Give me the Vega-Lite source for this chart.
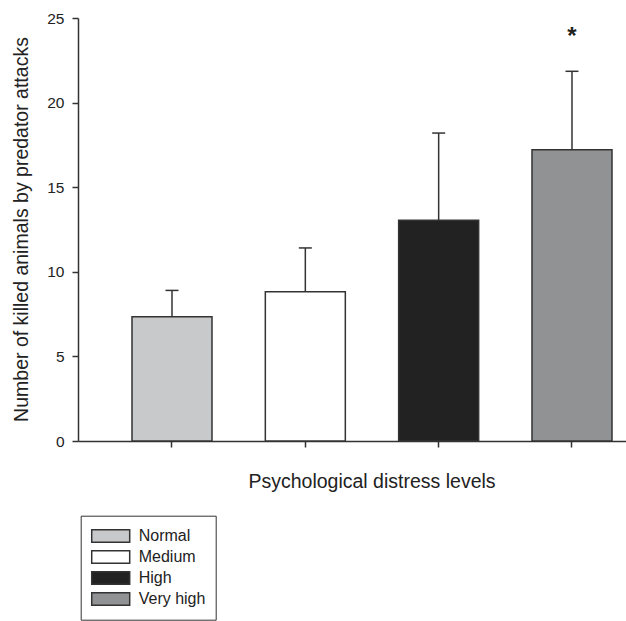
{
  "$schema": "https://vega.github.io/schema/vega-lite/v6.json",
  "width": 548,
  "height": 423,
  "autosize": {"type": "none"},
  "padding": {"left": 78, "top": 18, "right": 0, "bottom": 180},
  "background": "white",
  "config": {
    "view": {"stroke": null},
    "font": "Liberation Sans",
    "axis": {
      "domainColor": "#333",
      "domainWidth": 1.5,
      "tickColor": "#333",
      "tickWidth": 1.5,
      "tickSize": 6,
      "grid": false,
      "labelFont": "Liberation Sans",
      "labelColor": "#222",
      "titleFont": "Liberation Sans",
      "titleColor": "#222",
      "titleFontWeight": "normal"
    },
    "axisY": {
      "labelFontSize": 15.5,
      "labelPadding": 8,
      "titleFontSize": 19.5
    }
  },
  "data": {
    "values": [
      {"level": "Normal", "mean": 7.35, "upper": 8.9},
      {"level": "Medium", "mean": 8.82, "upper": 11.41},
      {"level": "High", "mean": 13.05, "upper": 18.2},
      {"level": "Very high", "mean": 17.22, "upper": 21.85}
    ]
  },
  "encoding": {
    "x": {
      "field": "level",
      "type": "nominal",
      "sort": ["Normal", "Medium", "High", "Very high"],
      "scale": {"paddingInner": 0.4, "paddingOuter": 0.255, "align": 0.794},
      "axis": {
        "labels": false,
        "title": "Psychological distress levels",
        "titleFontSize": 19.5,
        "titleX": 293.5,
        "titleY": 46.5,
        "titleAlign": "center",
        "titleBaseline": "alphabetic"
      }
    },
    "y": {
      "field": "mean",
      "type": "quantitative",
      "scale": {"domain": [0, 25], "nice": false},
      "axis": {
        "values": [0, 5, 10, 15, 20, 25],
        "labelFontSize": 15.5,
        "labelPadding": 8,
        "title": "Number of killed animals by predator attacks",
        "titleFontSize": 19.5,
        "titleX": -51,
        "titleY": 211,
        "titleAlign": "center",
        "titleBaseline": "alphabetic"
      }
    }
  },
  "layer": [
    {
      "mark": {"type": "rule", "stroke": "#333", "strokeWidth": 1.5},
      "encoding": {
        "y2": {"field": "upper"}
      }
    },
    {
      "mark": {"type": "tick", "color": "#333", "size": 13, "thickness": 1.5, "opacity": 1},
      "encoding": {
        "y": {"field": "upper", "type": "quantitative"}
      }
    },
    {
      "mark": {"type": "bar", "stroke": "#333", "strokeWidth": 1.5, "fillOpacity": 1},
      "encoding": {
        "fill": {
          "field": "level",
          "type": "nominal",
          "sort": ["Normal", "Medium", "High", "Very high"],
          "scale": {
            "domain": ["Normal", "Medium", "High", "Very high"],
            "range": ["#c8c9cb", "#ffffff", "#222222", "#919294"]
          },
          "legend": {
            "title": null,
            "orient": "none",
            "legendX": 2.7,
            "legendY": 497.7,
            "strokeColor": "#333",
            "padding": 10,
            "symbolType": "M-1,-0.33H1V0.33H-1Z",
            "symbolSize": 1444,
            "symbolStrokeColor": "#333",
            "symbolStrokeWidth": 1.5,
            "symbolOpacity": 1,
            "clipHeight": 20.4,
            "rowPadding": 0,
            "labelOffset": 8,
            "labelFont": "Liberation Sans",
            "labelFontSize": 16,
            "labelColor": "#222"
          }
        }
      }
    },
    {
      "mark": {"type": "text", "text": "*", "fontSize": 24, "fontWeight": "bold", "color": "#222", "baseline": "alphabetic"},
      "transform": [{"filter": "datum.level === 'Very high'"}],
      "encoding": {
        "y": {"datum": 23.45}
      }
    }
  ]
}
